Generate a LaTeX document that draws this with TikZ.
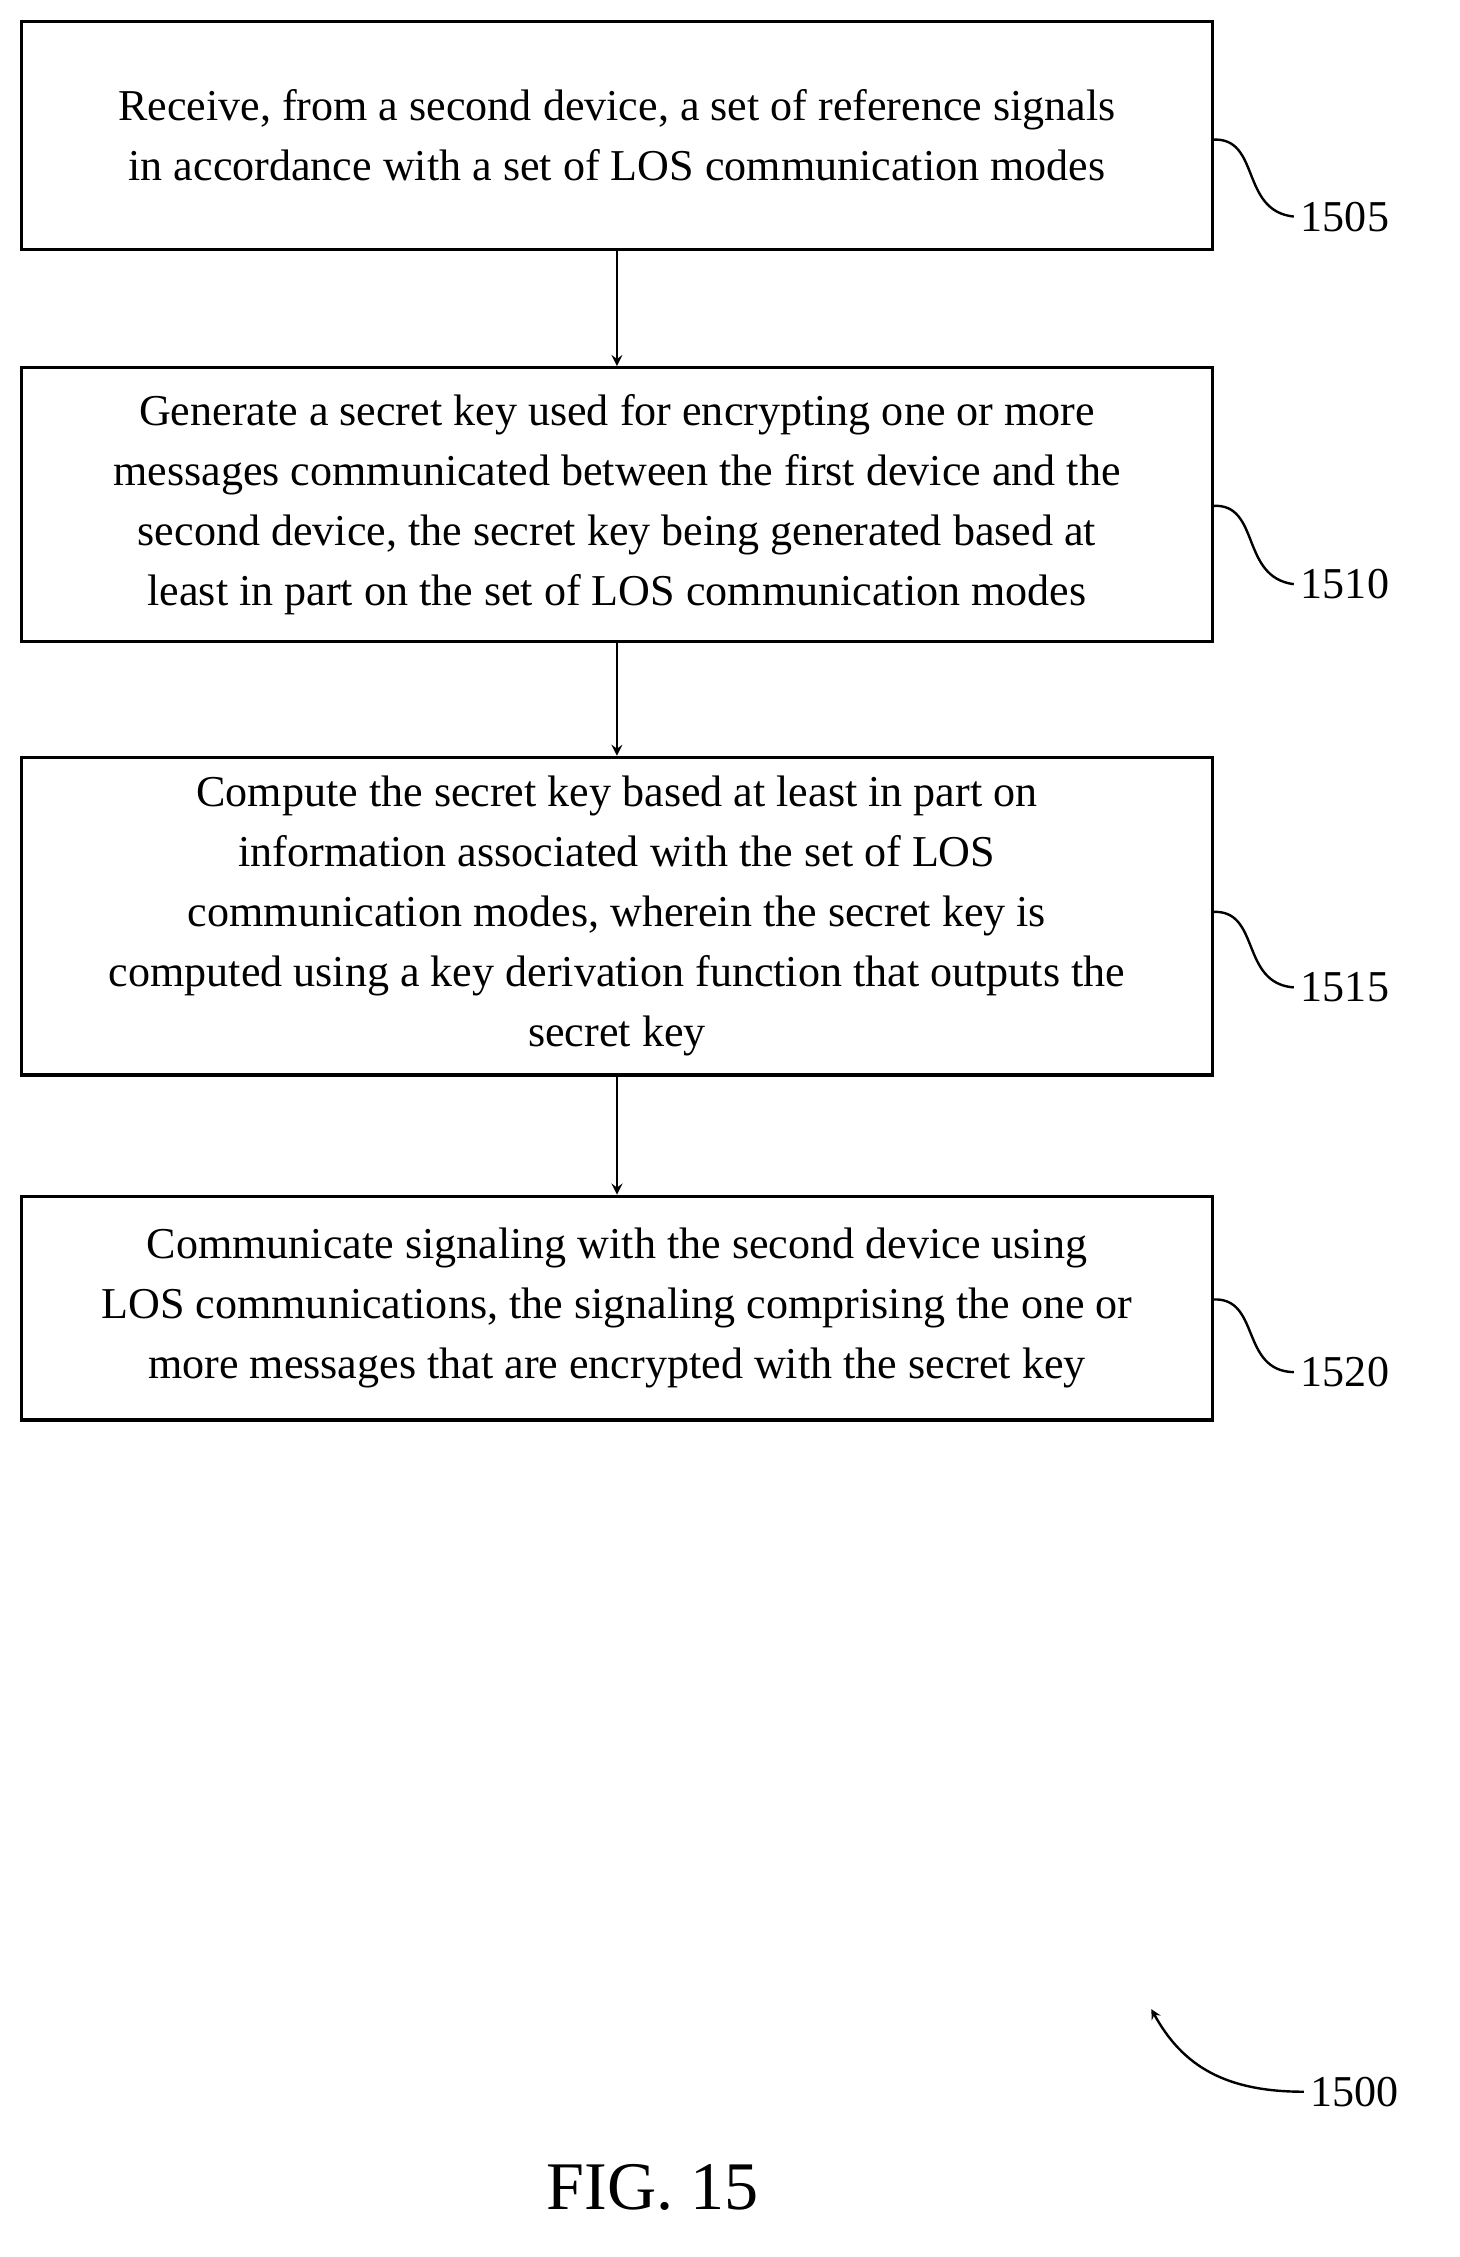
\documentclass[tikz,border=0pt]{standalone}
\usepackage{fontspec}
\setmainfont{Liberation Serif}
\usetikzlibrary{positioning}

\tikzset{
    stepbox/.style={draw,line width=1.6pt,minimum width=836*0.025cm,align=center,
        font=\fontsize{22}{30}\selectfont,inner sep=0pt},
    flow/.style={->,line width=1.4pt,>=stealth},
    tag/.style={font=\fontsize{22}{26}\selectfont,anchor=west},
    squig/.style={line width=1.2pt}
}

\begin{document}
\begin{tikzpicture}[x=0.025cm,y=-0.025cm]
    \useasboundingbox (0,0) rectangle (1024,1584);

    \node[stepbox,minimum height=160*0.025cm] (s1505) at (433,95)
        {Receive, from a second device, a set of reference signals\\in accordance with a set of LOS communication modes};
    \node[stepbox,minimum height=192*0.025cm] (s1510) at (433,354)
        {Generate a secret key used for encrypting one or more\\messages communicated between the first device and the\\second device, the secret key being generated based at\\least in part on the set of LOS communication modes};
    \node[stepbox,minimum height=223*0.025cm] (s1515) at (433,643)
        {Compute the secret key based at least in part on\\information associated with the set of LOS\\communication modes, wherein the secret key is\\computed using a key derivation function that outputs the\\secret key};
    \node[stepbox,minimum height=157*0.025cm] (s1520) at (433,918)
        {Communicate signaling with the second device using\\LOS communications, the signaling comprising the one or\\more messages that are encrypted with the secret key};

    \draw[flow] (s1505) -- (s1510);
    \draw[flow] (s1510) -- (s1515);
    \draw[flow] (s1515) -- (s1520);

    % reference numerals
    \node[tag] (t1505) at (908,152) {1505};
    \node[tag] (t1510) at (908,410) {1510};
    \node[tag] (t1515) at (908,693) {1515};
    \node[tag] (t1520) at (908,963) {1520};
    \foreach \n/\y in {1505/98,1510/355,1515/640,1520/912}
        \draw[squig] (851,\y) .. controls (885,\y-2) and (870,\y+50) .. (t\n.west);

    \node[tag] (t1500) at (915,1468) {1500};
    \draw[flow,line width=1.2pt] (t1500.west) .. controls (860,1468) and (830,1450) .. (808,1410);

    \node[font=\fontsize{34}{40}\selectfont] (fig) at (458,1535) {FIG. 15};
\end{tikzpicture}
\end{document}
